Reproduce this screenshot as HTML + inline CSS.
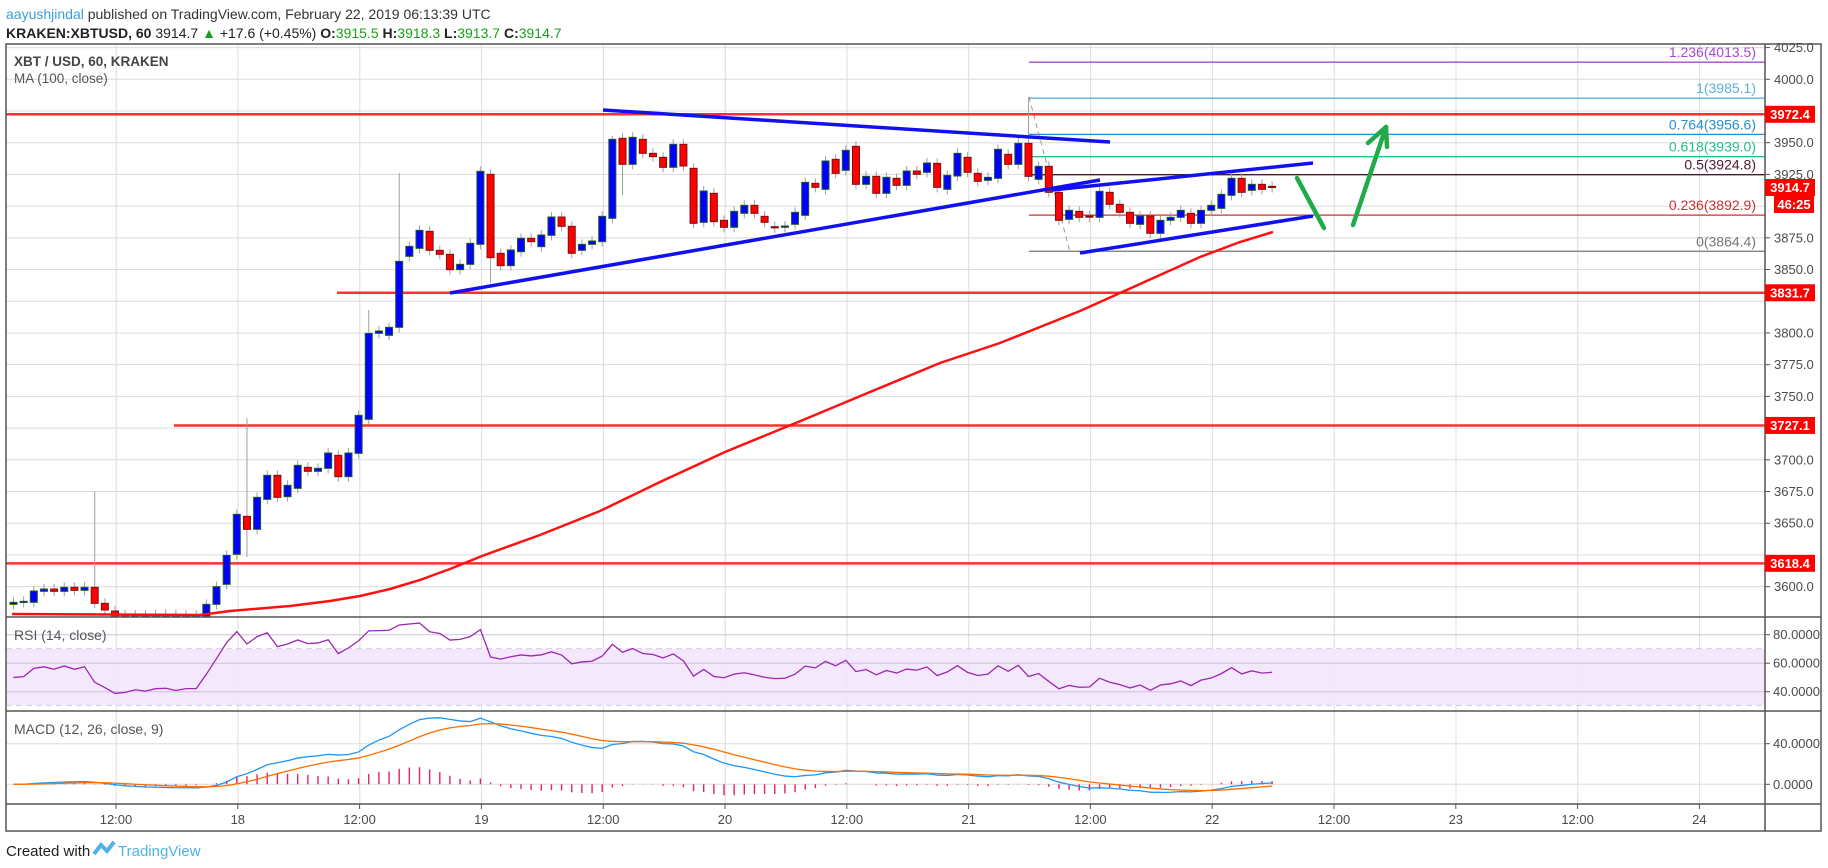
<!DOCTYPE html>
<html><head><meta charset="utf-8">
<style>
html,body{margin:0;padding:0;background:#fff;width:1828px;height:868px;overflow:hidden;font-family:"Liberation Sans",sans-serif}
svg{position:absolute;left:0;top:0}
svg text{font-family:"Liberation Sans",sans-serif}
</style></head><body>
<svg id="s" width="1828" height="868" viewBox="0 0 1828 868" xmlns="http://www.w3.org/2000/svg">
<rect width="1828" height="868" fill="#fff"/>
<g id="grid"></g>
<line x1="6" y1="649" x2="1765" y2="649" stroke="#b9a9c9" stroke-dasharray="6,4"/>
<line x1="6" y1="705" x2="1765" y2="705" stroke="#b9a9c9" stroke-dasharray="6,4"/>
<rect x="6" y="649" width="1759" height="56" fill="#f3e6fc" opacity="0.9"/>
<g id="grid2"></g>
<g id="fib"></g>
<g id="hl"></g>
<g id="candles"></g>
<g id="ind"></g>
<g id="draw"></g>
<g fill="none" stroke="#555" stroke-width="1.5">
<rect x="6" y="44" width="1815" height="787"/>
<line x1="1765" y1="44" x2="1765" y2="831"/>
<line x1="6" y1="617" x2="1821" y2="617"/>
<line x1="6" y1="711" x2="1821" y2="711"/>
<line x1="6" y1="804" x2="1821" y2="804"/>
</g>
<g id="axis" font-size="13" fill="#4a4a4a"></g>
<text x="6" y="19" font-size="14" fill="#333"><tspan fill="#3aa0dc">aayushjindal</tspan> published on TradingView.com, February 22, 2019 06:13:39 UTC</text>
<text x="6" y="38" font-size="14" fill="#222" font-weight="bold">KRAKEN:XBTUSD, 60 <tspan font-weight="normal">3914.7 </tspan><tspan fill="#1aa01a">▲</tspan><tspan font-weight="normal"> +17.6 (+0.45%) </tspan>O:<tspan fill="#1aa01a" font-weight="normal">3915.5</tspan> H:<tspan fill="#1aa01a" font-weight="normal">3918.3</tspan> L:<tspan fill="#1aa01a" font-weight="normal">3913.7</tspan> C:<tspan fill="#1aa01a" font-weight="normal">3914.7</tspan></text>
<text x="14" y="66" font-size="13.5" fill="#444" font-weight="bold">XBT / USD, 60, KRAKEN</text>
<text x="14" y="83" font-size="13.5" fill="#555">MA (100, close)</text>
<text x="14" y="640" font-size="14" fill="#555">RSI (14, close)</text>
<text x="14" y="734" font-size="14" fill="#555">MACD (12, 26, close, 9)</text>
<text x="6" y="856" font-size="15" fill="#222">Created with</text>
<path d="M94 854 l7 -9 l6 6 l7 -9" fill="none" stroke="#4fb3e6" stroke-width="4"/>
<text x="118" y="856" font-size="15" fill="#4fb3e6">TradingView</text>
</svg>
<script>
var NS="http://www.w3.org/2000/svg";
function el(p,t,a,txt){var e=document.createElementNS(NS,t);for(var k in a)e.setAttribute(k,a[k]);if(txt!=null)e.textContent=txt;document.getElementById(p).appendChild(e);return e;}
function py(p){return 114.3-(p-3972.4)*1.2684;}
function yp(y){return 3972.4-(y-114.3)/1.2684;}
for(var k=-1;k<13;k++){var x=238+k*121.8;if(x>6&&x<1765){el('grid','line',{x1:x,y1:44,x2:x,y2:804,stroke:'#dcdcdc'});}}
for(var p=3600;p<=4025;p+=25){var y=py(p);el('grid','line',{x1:6,y1:y,x2:1765,y2:y,stroke:'#dcdcdc'});}
[80,60,40].forEach(function(v){var y=634.7+(80-v)*1.425;el('grid2','line',{x1:6,y1:y,x2:1765,y2:y,stroke:'#cfc0dc'});});
[40,0].forEach(function(v){var y=784.3-v*1.015;el('grid2','line',{x1:6,y1:y,x2:1765,y2:y,stroke:'#dcdcdc'});});
for(var p=3600;p<=4025;p+=25){var y=py(p);if([3975,3900,3825,3725,3625].indexOf(p)>=0)continue;el('axis','line',{x1:1765,y1:y,x2:1770,y2:y,stroke:'#555'});el('axis','text',{x:1774,y:y+4.5},p.toFixed(1));}
[80,60,40].forEach(function(v){var y=634.7+(80-v)*1.425;el('axis','line',{x1:1765,y1:y,x2:1770,y2:y,stroke:'#555'});el('axis','text',{x:1773,y:y+4.5},v+'.0000');});
[40,0].forEach(function(v){var y=784.3-v*1.015;el('axis','line',{x1:1765,y1:y,x2:1770,y2:y,stroke:'#555'});el('axis','text',{x:1773,y:y+4.5},v+'.0000');});
var tl=['12:00','18','12:00','19','12:00','20','12:00','21','12:00','22','12:00','23','12:00','24'];
for(var k=0;k<14;k++){var x=116+k*121.8;el('axis','line',{x1:x,y1:804,x2:x,y2:809,stroke:'#555'});el('axis','text',{x:x,y:824,'text-anchor':'middle'},tl[k]);}
[[3972.4,6],[3831.7,337],[3727.1,174],[3618.4,6]].forEach(function(h){var y=py(h[0]);el('hl','line',{x1:h[1],y1:y,x2:1765,y2:y,stroke:'#ff1a1a','stroke-width':2.5,opacity:0.9});});
var fibs=[[4013.5,'1.236','#a24cc8'],[3985.1,'1','#5ab0e0'],[3956.6,'0.764','#2190d0'],[3939.0,'0.618','#22c08c'],[3924.8,'0.5','#4a1a32'],[3892.9,'0.236','#c83232'],[3864.4,'0','#777']];
fibs.forEach(function(f){var y=py(f[0]);el('fib','line',{x1:1029,y1:y,x2:1765,y2:y,stroke:f[2],'stroke-width':1.3});el('fib','text',{x:1756,y:y-5,'text-anchor':'end','font-size':14,fill:f[2]},f[1]+'('+f[0].toFixed(1)+')');});
el('fib','line',{x1:1029,y1:97,x2:1070,y2:252,stroke:'#999','stroke-dasharray':'5,4'});
var z4=[[1,1507,1513],[1,1504,1507],[1,1473,1507],[1,1467,1474],[0,1467,1474],[1,1462,1474],[0,1462,1471],[1,1462,1471],[0,1462,1510],[0,1510,1530],[0,1533,1555],[0,1545,1552],[1,1545,1550],[0,1545,1550],[1,1544,1550],[1,1543,1550],[0,1543,1550],[1,1546,1550],[1,1546,1552],[1,1513,1555],[1,1460,1513],[1,1366,1453],[1,1243,1363],[0,1249,1288],[1,1192,1288],[1,1126,1198],[0,1126,1192],[1,1156,1190],[1,1096,1165],[0,1102,1114],[1,1105,1114],[1,1059,1105],[0,1066,1130],[1,1059,1130],[1,946,1060],[1,700,958],[1,693,700],[1,682,706],[1,484,682],[1,439,469],[1,391,445],[0,394,451],[0,451,463],[0,463,509],[1,493,509],[1,430,493]];
var z5=[[1,274,493],[0,283,533],[0,520,557],[1,510,557],[1,475,515],[0,475,485],[1,465,500],[1,411,466],[0,411,439],[0,439,520],[1,493,511],[1,483,493],[1,409,485],[1,178,415],[0,175,253],[1,172,253],[0,178,220],[0,220,230],[0,232,262],[1,193,262],[0,193,258],[0,265,430],[1,333,427],[0,340,425],[0,421,442],[1,394,442],[1,376,400],[0,376,400],[0,409,427],[0,440,442],[1,438,442],[1,397,433],[1,307,406],[0,310,322],[1,243,328],[0,238,280],[1,211,271],[0,199,313],[1,289,313],[0,289,340],[1,292,340],[0,295,316],[1,273,316],[0,273,283],[1,249,277]];
var z6=[[0,250,322],[1,286,328],[1,220,288],[0,232,277],[0,280,304],[1,292,301],[1,208,295],[0,223,253],[1,190,253],[0,190,289],[1,259,298],[0,259,337],[0,337,421],[1,391,418],[0,394,412],[0,408,410],[1,334,412],[0,337,373],[0,373,397],[0,397,430],[1,408,433],[0,408,460],[1,421,460],[1,412,421],[1,391,412],[0,400,430],[1,391,430],[1,376,391],[1,343,385],[1,295,346],[0,295,337],[1,313,331],[0,313,328],[0,319,322]];
var C=[];
z4.forEach(function(c){C.push([c[0],100+c[1]/3,100+c[2]/3]);});
z5.forEach(function(c){C.push([c[0],80+c[1]/3,80+c[2]/3]);});
z6.forEach(function(c){C.push([c[0],80+c[1]/3,80+c[2]/3]);});
var wk={8:[491,null],23:[418,557],35:[310,null],38:[173,null],47:[null,283],59:[136,null],60:[null,195],100:[97,null]};
var closes=[];
C.forEach(function(c,i){var x=13.5+10.15*i;var t=c[1],b=c[2];if(b-t<1.2){b=t+1.2;}
 var hi=t-5,lo=b+5;if(wk[i]){if(wk[i][0])hi=wk[i][0];if(wk[i][1])lo=wk[i][1];}
 lo=Math.min(lo,617);if(t<617){
 el('candles','line',{x1:x,y1:hi,x2:x,y2:lo,stroke:'#a0a0a0'});
 el('candles','rect',{x:x-3.5,y:t,width:7,height:Math.min(b,617)-t,fill:c[0]?'#0000ff':'#ff0000',stroke:c[0]?'#1e5a28':'#7a1010','stroke-width':1});}
 closes.push(yp(c[0]?c[1]:c[2]));});
var ma=[[12,614],[200,615],[230,611],[290,606],[330,601],[360,596],[390,589],[420,580],[450,569],[482,556],[540,535],[600,511],[660,482],[725,452],[803,420],[870,392],[940,363],[1000,343],[1040,327],[1080,311],[1120,293],[1160,275],[1200,257],[1240,242],[1273,232]];
el('ind','polyline',{points:ma.map(function(p){return p.join(',')}).join(' '),fill:'none',stroke:'#ff1010','stroke-width':2.5});
var ag=2.5,al=2.5,rsi=[];
for(var i=0;i<closes.length;i++){if(i>0){var d=closes[i]-closes[i-1];ag=(ag*13+Math.max(d,0))/14;al=(al*13+Math.max(-d,0))/14;}rsi.push(100-100/(1+ag/al));}
el('ind','polyline',{points:rsi.map(function(v,i){return (13.5+10.15*i)+','+(634.7+(80-v)*1.425)}).join(' '),fill:'none',stroke:'#9c27b0','stroke-width':1.3});
function ema(a,n){var k=2/(n+1),o=[],e=a[0];a.forEach(function(v){e=v*k+e*(1-k);o.push(e);});return o;}
var e12=ema(closes,12),e26=ema(closes,26),m=e12.map(function(v,i){return v-e26[i]}),sg=ema(m,9);
m.forEach(function(v,i){var x=13.5+10.15*i,h=v-sg[i];el('ind','line',{x1:x,y1:784.3,x2:x,y2:784.3-h*1.015,stroke:'#e91e63','stroke-width':1.4});});
el('ind','polyline',{points:m.map(function(v,i){return (13.5+10.15*i)+','+(784.3-v*1.015)}).join(' '),fill:'none',stroke:'#2196f3','stroke-width':1.3});
el('ind','polyline',{points:sg.map(function(v,i){return (13.5+10.15*i)+','+(784.3-v*1.015)}).join(' '),fill:'none',stroke:'#ff6d00','stroke-width':1.3});
[[603,110,1110,142],[450,293,1100,180],[1052,190,1313,163],[1080,253,1313,216]].forEach(function(l){el('draw','line',{x1:l[0],y1:l[1],x2:l[2],y2:l[3],stroke:'#1010f0','stroke-width':3.5});});
[[1297,178,1324,228],[1353,225,1386,127],[1368,143,1386,127],[1386,127,1387,147]].forEach(function(l){el('draw','line',{x1:l[0],y1:l[1],x2:l[2],y2:l[3],stroke:'#22aa4a','stroke-width':4.5,'stroke-linecap':'round'});});
[[3972.4,'3972.4'],[3914.7,'3914.7'],[3831.7,'3831.7'],[3727.1,'3727.1'],[3618.4,'3618.4']].forEach(function(b){var y=py(b[0]);el('axis','rect',{x:1765,y:y-8.5,width:50,height:17,fill:'#ff0000'});el('axis','text',{x:1790,y:y+4.5,'text-anchor':'middle',fill:'#fff','font-weight':'bold'},b[1]);});
el('axis','rect',{x:1774,y:196,width:40,height:17,fill:'#ff0000'});
el('axis','text',{x:1794,y:209,'text-anchor':'middle',fill:'#fff','font-weight':'bold'},'46:25');
</script>
</body></html>
